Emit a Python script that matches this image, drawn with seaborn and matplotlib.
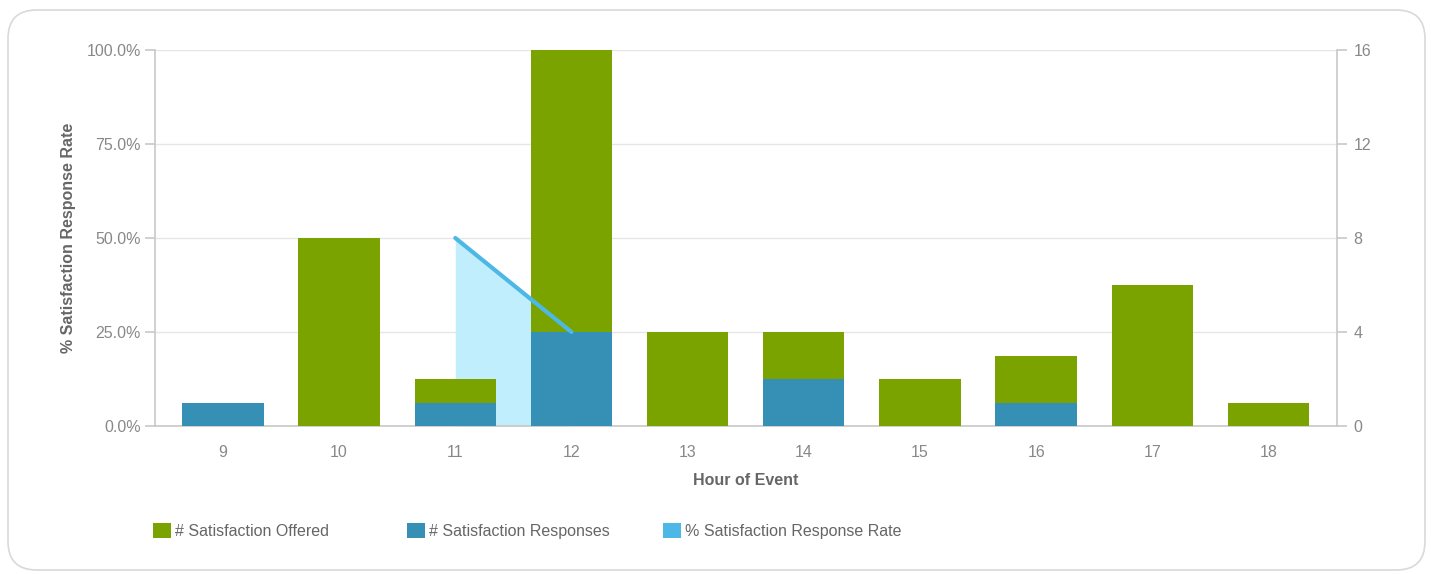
"""
plot.py
Satisfaction offered / responses per hour of event, with response rate on the left axis.
"""

import matplotlib
matplotlib.use("Agg")
import matplotlib.pyplot as plt
from matplotlib.patches import FancyBboxPatch, Patch
from matplotlib.ticker import PercentFormatter
import pandas as pd
import seaborn as sns

# ---- Data ----
hours = ["9", "10", "11", "12", "13", "14", "15", "16", "17", "18"]
offered = [1, 8, 2, 16, 4, 4, 2, 3, 6, 1]
responses = [1, 0, 1, 4, 0, 2, 0, 1, 0, 0]
response_rate = [None, None, 50.0, 25.0, None, None, None, None, None, None]

# ---- Style ----
GREEN = "#7aa300"
BLUE = "#368fb4"
LIGHT = "#4db8e5"
FILL = "#c0eefc"
TICK_GRAY = "#888888"
LABEL_GRAY = "#666666"
AXIS_GRAY = "#c8c8c8"

sns.set_theme(style="white")
plt.rcParams["font.family"] = ["Liberation Sans", "DejaVu Sans"]


def main():
    df = pd.DataFrame({"hour": hours, "offered": offered,
                       "responses": responses, "rate": response_rate})
    df["pos"] = range(len(df))
    rate_df = df.dropna(subset=["rate"])

    fig = plt.figure(figsize=(14.31, 5.74), dpi=100)
    box = FancyBboxPatch((8 / 1431, 4 / 574), 1417 / 1431, 560 / 574,
                         boxstyle="round,pad=0,rounding_size=0.02",
                         transform=fig.transFigure, facecolor="white",
                         edgecolor="#d9d9d9", linewidth=1.2,
                         mutation_aspect=1431 / 574, zorder=-10)
    fig.patches.append(box)

    # left axis: response rate (area fill lives here, under the bars)
    ax = fig.add_axes([155 / 1431, 1 - 426 / 574, (1337 - 155) / 1431, (426 - 50) / 574])
    ax.set_facecolor("none")
    ax.fill_between(rate_df["pos"], 0, rate_df["rate"], color=FILL, linewidth=0, zorder=1)
    ax.set_ylim(0, 100)
    ax.set_yticks([0, 25, 50, 75, 100])
    ax.yaxis.set_major_formatter(PercentFormatter(decimals=1))
    ax.grid(axis="y", color="#e6e6e6", linewidth=1)
    ax.set_axisbelow(True)

    # right axis: counts as overlaid bars
    ax2 = ax.twinx()
    ax2.set_facecolor("none")
    sns.barplot(data=df, x="hour", y="offered", color=GREEN, width=0.7,
                saturation=1, linewidth=0, edgecolor="none", ax=ax2, zorder=2)
    sns.barplot(data=df, x="hour", y="responses", color=BLUE, width=0.7,
                saturation=1, linewidth=0, edgecolor="none", ax=ax2, zorder=3)
    ax2.set_ylim(0, 16)
    ax2.set_yticks([0, 4, 8, 12, 16])
    ax2.set_ylabel("")
    ax2.set_xlabel("")

    # line on top of the bars, same % scale as the left axis
    ax3 = ax.twinx()
    ax3.set_facecolor("none")
    sns.lineplot(data=rate_df, x="pos", y="rate", color=LIGHT, linewidth=3,
                 solid_capstyle="round", ax=ax3)
    ax3.set_ylim(0, 100)
    ax3.axis("off")

    for a in (ax, ax2, ax3):
        a.set_xlim(-0.585, 9.59)

    ax.set_xticks(range(len(hours)))
    ax.set_xticklabels(hours)
    ax2.tick_params(axis="x", bottom=False, labelbottom=False)

    # ---- Spines / ticks ----
    for a in (ax, ax2):
        for side in a.spines:
            a.spines[side].set_visible(False)
    ax.spines["left"].set_visible(True)
    ax.spines["bottom"].set_visible(True)
    ax2.spines["right"].set_visible(True)
    for s in (ax.spines["left"], ax.spines["bottom"], ax2.spines["right"]):
        s.set_color(AXIS_GRAY)
        s.set_linewidth(1.2)

    ax.tick_params(axis="y", left=True, length=7, width=1.2, color=AXIS_GRAY,
                   labelcolor=TICK_GRAY, labelsize=11.5, pad=3)
    ax.tick_params(axis="x", bottom=False, labelcolor=TICK_GRAY, labelsize=11.5, pad=8)
    ax2.tick_params(axis="y", right=True, length=7, width=1.2, color=AXIS_GRAY,
                    labelcolor=TICK_GRAY, labelsize=11.5, pad=5)

    ax.set_ylabel("% Satisfaction Response Rate", fontsize=11.5, fontweight="bold",
                  color=LABEL_GRAY, labelpad=8)
    ax.set_xlabel("Hour of Event", fontsize=11.5, fontweight="bold",
                  color=LABEL_GRAY, labelpad=9)

    # ---- Legend ----
    labels = ["# Satisfaction Offered", "# Satisfaction Responses",
              "% Satisfaction Response Rate"]
    colors = [GREEN, BLUE, LIGHT]
    starts = [153, 407, 663]
    for lab, col, x0 in zip(labels, colors, starts):
        fig.legend(handles=[Patch(facecolor=col, edgecolor="none")], labels=[lab],
                   loc="center left", bbox_to_anchor=(x0 / 1431, 1 - 531 / 574),
                   frameon=False, handlelength=1.1, handleheight=1.1,
                   handletextpad=0.25, borderpad=0, borderaxespad=0,
                   labelcolor=LABEL_GRAY, fontsize=11.5)

    fig.savefig("out.png", dpi=100)


if __name__ == "__main__":
    main()
